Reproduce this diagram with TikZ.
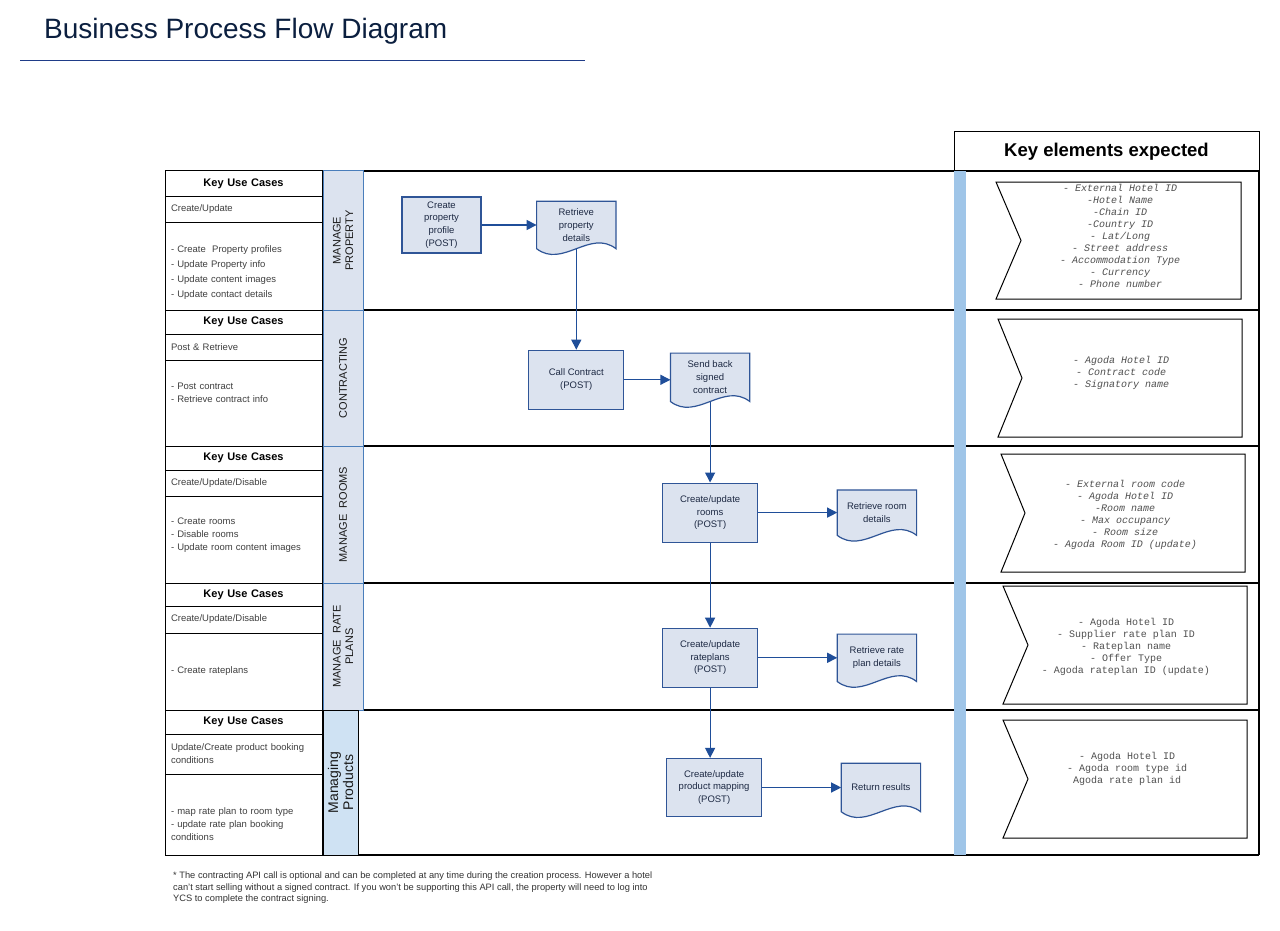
\documentclass[tikz,border=0pt]{standalone}
\usepackage{fontspec}
\setmainfont{Liberation Sans}
\newfontfamily\keyfont{Liberation Mono}
\usetikzlibrary{
    arrows.meta,
    positioning,
    backgrounds
}
\definecolor{flowfill}{HTML}{DCE3EF}
\definecolor{flowborder}{HTML}{2F5597}
\definecolor{flowtext}{HTML}{1E2A44}
\definecolor{arrowblue}{HTML}{1F4E99}
\definecolor{laneblue}{HTML}{4A7EBB}
\definecolor{lanefill}{HTML}{DCE3EF}
\definecolor{lanetext}{HTML}{1A1A1A}
\definecolor{prodfill}{HTML}{CFE2F3}
\definecolor{barblue}{HTML}{9FC5E8}
\definecolor{titlenavy}{HTML}{0B1F3F}
\definecolor{rulenavy}{HTML}{1F3C88}
\definecolor{uctext}{HTML}{404040}
\definecolor{keytextcol}{HTML}{505050}
\definecolor{notetext}{HTML}{333333}
\tikzset{
    kuchead/.style = {
        rectangle,
        draw,
        line width=1pt,
        outer sep=0pt,
        text width=145pt,
        inner xsep=6pt,
        inner ysep=0pt,
        align=center,
        font=\bfseries\fontsize{11}{13}\selectfont
    },
    usecase/.style = {
        rectangle,
        draw,
        line width=1pt,
        outer sep=0pt,
        text width=145pt,
        inner xsep=6pt,
        inner ysep=1pt,
        align=left,
        text=uctext,
        font=\fontsize{9.5}{13}\selectfont
    },
    lanelabel/.style = {
        rectangle,
        rotate=90,
        draw=laneblue,
        fill=lanefill,
        line width=1pt,
        minimum height=40pt,
        inner sep=1pt,
        align=center,
        text=lanetext,
        font=\fontsize{11}{12.5}\selectfont
    },
    process/.style = {
        rectangle,
        draw=flowborder,
        fill=flowfill,
        line width=1.2pt,
        inner sep=2pt,
        align=center,
        text=flowtext,
        font=\fontsize{9.5}{12.7}\selectfont
    },
    docbox/.style = {
        rectangle,
        minimum width=79pt,
        minimum height=47pt,
        inner sep=2pt,
        align=center,
        text=flowtext,
        font=\fontsize{9.5}{12.7}\selectfont
    },
    docline/.style = {
        draw=flowborder,
        fill=flowfill,
        line width=1.2pt
    },
    keyshape/.style = {
        draw,
        line width=1pt,
        fill=white
    },
    keytext/.style = {
        align=center,
        inner sep=0pt,
        text=keytextcol,
        font=\keyfont\fontsize{10}{12}\selectfont
    },
    keyitalic/.style = {
        keytext,
        font=\keyfont\itshape\fontsize{10}{12}\selectfont
    },
    rowline/.style = {
        line width=1.3pt
    },
    arrow/.style = {
        -{Triangle[length=10pt,width=10pt]},
        line width=1.2pt,
        draw=arrowblue
    }
}
\begin{document}
\begin{tikzpicture}[x=1pt, y=-1pt]
\useasboundingbox (0,0) rectangle (1280,931);

% title
\node (title) [anchor=base west, inner sep=0pt, text=titlenavy, font=\fontsize{28}{30}\selectfont] at (44,39) {Business Process Flow Diagram};
\draw [rulenavy, line width=1pt] (20,61) -- (585,61);

% lanes
\foreach \y in {171,310,446,583,710,855}
    \draw [rowline] (358,\y) -- (1259,\y);
\draw [rowline] (1259,171) -- (1259,855);
\node (keyhead) [draw, line width=1pt, outer sep=0pt, anchor=south west, minimum width=305pt, minimum height=39pt, font=\bfseries\fontsize{18.5}{20}\selectfont] at (954,171) {Key elements expected};

\node (lane1) [lanelabel, minimum width=139pt] at (343,240.5) {MANAGE\\PROPERTY};
\node (lane2) [lanelabel, minimum width=136pt] at (343,378) {CONTRACTING};
\node (lane3) [lanelabel, minimum width=137pt] at (343,514.5) {MANAGE~ ROOMS};
\node (lane4) [lanelabel, minimum width=127pt] at (343,646.5) {MANAGE~ RATE\\PLANS};
\node (lane5) [lanelabel, minimum width=145pt, minimum height=35pt, draw=black, fill=prodfill, font=\fontsize{14}{15}\selectfont] at (340.5,782.5) {Managing\\Products};

\fill [barblue] (954,171) rectangle (966,855);

% key use cases
\node (kuc1) [kuchead, anchor=north west, minimum height=25pt] at (165,171) {Key Use Cases};
\node (uc1) [usecase, below=0pt of kuc1, minimum height=26pt] {Create/Update};
\node (ul1) [usecase, below=0pt of uc1, minimum height=88pt, text height=20pt, font=\fontsize{9.5}{15}\selectfont] {- Create~ Property profiles\\- Update Property info\\- Update content images\\- Update contact details};
\node (kuc2) [kuchead, below=0pt of ul1, minimum height=24pt] {Key Use Cases};
\node (uc2) [usecase, below=0pt of kuc2, minimum height=26pt] {Post \& Retrieve};
\node (ul2) [usecase, below=0pt of uc2, minimum height=86pt, text depth=34pt] {- Post contract\\- Retrieve contract info};
\node (kuc3) [kuchead, below=0pt of ul2, minimum height=24pt] {Key Use Cases};
\node (uc3) [usecase, below=0pt of kuc3, minimum height=26pt] {Create/Update/Disable};
\node (ul3) [usecase, below=0pt of uc3, minimum height=87pt, text depth=36pt] {- Create rooms\\- Disable rooms\\- Update room content images};
\node (kuc4) [kuchead, below=0pt of ul3, minimum height=23pt] {Key Use Cases};
\node (uc4) [usecase, below=0pt of kuc4, minimum height=27pt] {Create/Update/Disable};
\node (ul4) [usecase, below=0pt of uc4, minimum height=77pt] {- Create rateplans};
\node (kuc5) [kuchead, below=0pt of ul4, minimum height=24pt] {Key Use Cases};
\node (uc5) [usecase, below=0pt of kuc5, minimum height=40pt] {Update/Create product booking\\conditions};
\node (ul5) [usecase, below=0pt of uc5, minimum height=81pt, text height=27pt] {- map rate plan to room type\\- update rate plan booking\\conditions};

% process flow
\node (cpp) [process, minimum width=79pt, minimum height=56pt] at (441.5,225) {Create\\property\\profile\\(POST)};
\node (rpd) [docbox, right=55pt of cpp] {Retrieve\\property\\details};
\node (cc) [process, below=101pt of rpd, minimum width=95pt, minimum height=59pt] {Call Contract\\(POST)};
\node (sbc) [docbox, right=46pt of cc, yshift=2.5pt, minimum height=48pt] {Send back\\signed\\contract};
\node (cur) [process, below=81pt of sbc, minimum width=95pt, minimum height=59pt] {Create/update\\rooms\\(POST)};
\node (rrd) [docbox, right=79pt of cur, minimum height=45pt] {Retrieve room\\details};
\node (cup) [process, below=85pt of cur, minimum width=95pt, minimum height=59pt] {Create/update\\rateplans\\(POST)};
\node (rrp) [docbox, right=79pt of cup] {Retrieve rate\\plan details};
\node (cpm) [process, below=70pt of cup, xshift=4pt, minimum width=95pt, minimum height=58pt] {Create/update\\product mapping\\(POST)};
\node (res) [docbox, right=79pt of cpm, minimum height=48pt] {Return results};

\begin{scope}[on background layer]
\fill [white] (0,0) rectangle (1280,931);
\foreach \d in {rpd,sbc,rrd,rrp,res}
    \path [docline] (\d.north west) -- (\d.north east) -- (\d.south east)
        .. controls +(-26,-20) and +(26,20) .. (\d.south west) -- cycle;
\end{scope}

\draw [arrow] (cpp) -- (rpd);
\draw [arrow] (rpd.south) -- (cc.north);
\draw [arrow] (cc.east) -- (sbc.west |- cc.east);
\draw [arrow] (sbc.south) -- (cur.north);
\draw [arrow] (cur) -- (rrd);
\draw [arrow] (cur.south) -- (cup.north);
\draw [arrow] (cup) -- (rrp);
\draw [arrow] (cup.south) -- (cup.south |- cpm.north);
\draw [arrow] (cpm) -- (res);

% key elements expected
\foreach \l/\r/\t/\b/\n in {996/1241/182/299/1021, 998/1242/319/437/1022, 1001/1245/454/572/1025, 1003/1247/586/704/1028, 1003/1247/720/838/1028}
    \draw [keyshape] (\l,\t) -- (\r,\t) -- (\r,\b) -- (\l,\b) -- (\n,{(\t+\b)/2}) -- cycle;

\node (key1) [keyitalic] at (1120,236) {- External Hotel ID\\-Hotel Name\\-Chain ID\\-Country ID\\- Lat/Long\\- Street address\\- Accommodation Type\\- Currency\\- Phone number};
\node (key2) [keyitalic] at (1121,373) {- Agoda Hotel ID\\- Contract code\\- Signatory name};
\node (key3) [keyitalic] at (1125,515) {- External room code\\- Agoda Hotel ID\\-Room name\\- Max occupancy\\- Room size\\- Agoda Room ID (update)};
\node (key4) [keytext] at (1126,646.5) {- Agoda Hotel ID\\- Supplier rate plan ID\\- Rateplan name\\- Offer Type\\- Agoda rateplan ID (update)};
\node (key5) [keytext] at (1127,768.5) {- Agoda Hotel ID\\- Agoda room type id\\Agoda rate plan id};

% footnote
\node (note) [anchor=north west, align=left, inner sep=0pt, text=notetext, font=\fontsize{9.3}{11.5}\selectfont] at (173,872) {* The contracting API call is optional and can be completed at any time during the creation process. However a hotel\\can't start selling without a signed contract. If you won't be supporting this API call, the property will need to log into\\YCS to complete the contract signing.};
\end{tikzpicture}
\end{document}
